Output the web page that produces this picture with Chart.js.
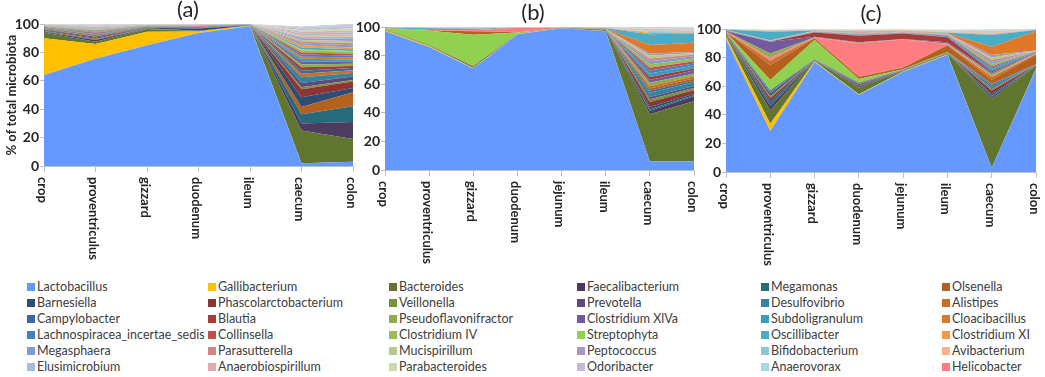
<!DOCTYPE html>
<html>
<head>
<meta charset="utf-8">
<script src="https://cdn.jsdelivr.net/npm/chart.js@4.4.1/dist/chart.umd.min.js"></script>
<style>
  body { margin: 0; background: #fff; }
  #wrap { position: relative; width: 1045px; height: 377px; overflow: hidden; font-family: Lato, sans-serif; }
  canvas { position: absolute; top: 0; }
  .ttl { position: absolute; font-size: 22px; line-height: 22px; color: #262626; transform: translateX(-50%); }
  .lg { position: absolute; font-size: 12.5px; line-height: 14px; color: #404040; white-space: nowrap; }
  .lg i { display: inline-block; width: 8px; height: 8px; margin-right: 2px; vertical-align: 0px; }
</style>
</head>
<body>
<div id="wrap">
  <canvas id="chartA" width="362" height="275" style="left:0px"></canvas>
  <canvas id="chartB" width="355" height="275" style="left:345px"></canvas>
  <canvas id="chartC" width="355" height="275" style="left:690px"></canvas>
  <div class="ttl" style="left:188px;top:-2px">(a)</div>
  <div class="ttl" style="left:533px;top:1px">(b)</div>
  <div class="ttl" style="left:871px;top:2px">(c)</div>
  <div id="legend"></div>
</div>
<script>
// sections of the gut
const sectionsA = ['crop', 'proventriculus', 'gizzard', 'duodenum', 'ileum', 'caecum', 'colon'];
const sectionsBC = ['crop', 'proventriculus', 'gizzard', 'duodenum', 'jejunum', 'ileum', 'caecum', 'colon'];

// genera, in legend order (row by row)
const genera = [
  'Lactobacillus', 'Gallibacterium', 'Bacteroides', 'Faecalibacterium', 'Megamonas', 'Olsenella',
  'Barnesiella', 'Phascolarctobacterium', 'Veillonella', 'Prevotella', 'Desulfovibrio', 'Alistipes',
  'Campylobacter', 'Blautia', 'Pseudoflavonifractor', 'Clostridium XlVa', 'Subdoligranulum', 'Cloacibacillus',
  'Lachnospiracea_incertae_sedis', 'Collinsella', 'Clostridium IV', 'Streptophyta', 'Oscillibacter', 'Clostridium XI',
  'Megasphaera', 'Parasutterella', 'Mucispirillum', 'Peptococcus', 'Bifidobacterium', 'Avibacterium',
  'Elusimicrobium', 'Anaerobiospirillum', 'Parabacteroides', 'Odoribacter', 'Anaerovorax', 'Helicobacter'
];

const colors = [
  '#6699FF', '#FFC000', '#5F7530', '#4D3B62', '#276A7C', '#B4601F',
  '#2C4D75', '#8C3533', '#77933C', '#5F4A7E', '#31859C', '#C8702A',
  '#3A68A4', '#A83B39', '#8CAE4C', '#7259A0', '#3A9DBA', '#E0782A',
  '#4A7EC2', '#C0504D', '#9BBB59', '#92D050', '#4BACC6', '#F79646',
  '#7F9CCB', '#D08886', '#B4CB8C', '#A596C2', '#8DC5D8', '#F9B38A',
  '#A9BBDD', '#E1ACAB', '#CBDAB2', '#C4BAD8', '#ABD6E4', '#FF7C80'
];

// % of total microbiota, one row per genus (legend order)
const valuesA = [
  [64, 75.5, 85, 93.7, 98.5, 2, 3],        // Lactobacillus
  [26, 10.5, 9.5, 1, 0.3, 0, 0],            // Gallibacterium
  [4, 1.5, 2, 0.3, 0.2, 23, 16],            // Bacteroides
  [0.6, 1.2, 0.2, 0.1, 0, 5, 12],           // Faecalibacterium
  [0.3, 0.4, 0.1, 0.1, 0, 6.5, 11],         // Megamonas
  [0.4, 0.5, 0.2, 0.1, 0, 5, 10],           // Olsenella
  [0.5, 0.8, 0.3, 1.5, 0.1, 7, 3],          // Barnesiella
  [0.4, 0.6, 0.2, 0.2, 0, 5.5, 4.5],        // Phascolarctobacterium
  [0.3, 0.5, 0.1, 0.1, 0, 1.5, 1],          // Veillonella
  [0.3, 0.5, 0.1, 0.1, 0, 3, 2.5],          // Prevotella
  [0.2, 0.4, 0.1, 0.1, 0, 4, 2.5],          // Desulfovibrio
  [0.2, 0.4, 0.1, 0.1, 0, 2.5, 2],          // Alistipes
  [0.2, 0.4, 0.1, 0.5, 0.1, 2, 1.5],        // Campylobacter
  [0.2, 0.4, 0.1, 0.1, 0.1, 2.5, 1.5],      // Blautia
  [0.2, 0.3, 0.1, 0.1, 0.1, 2, 1.5],        // Pseudoflavonifractor
  [0.2, 0.3, 0.1, 0.1, 0.1, 2, 1.5],        // Clostridium XlVa
  [0.2, 0.3, 0.1, 0.1, 0.1, 2, 1.5],        // Subdoligranulum
  [0.1, 0.3, 0.1, 0.1, 0.1, 1.5, 1.5],      // Cloacibacillus
  [0.1, 0.3, 0.1, 0.1, 0.1, 1.5, 1.3],      // Lachnospiracea_incertae_sedis
  [0.1, 0.3, 0.1, 0.1, 0.1, 1.5, 1.3],      // Collinsella
  [0.1, 0.2, 0.1, 0.1, 0.1, 1.5, 1.3],      // Clostridium IV
  [0.1, 0.3, 0.1, 0.1, 0, 0.5, 0.5],        // Streptophyta
  [0.1, 0.3, 0.1, 0.1, 0, 1.5, 1.3],        // Oscillibacter
  [0.1, 0.3, 0.1, 0.1, 0, 1.5, 1.3],        // Clostridium XI
  [0.1, 0.3, 0.1, 0.1, 0, 1.3, 1.5],        // Megasphaera
  [0.1, 0.3, 0.1, 0.1, 0, 1.2, 1.5],        // Parasutterella
  [0.1, 0.3, 0.1, 0.1, 0, 1.2, 1.5],        // Mucispirillum
  [0.1, 0.3, 0.1, 0.1, 0, 1.2, 1.5],        // Peptococcus
  [0.1, 0.3, 0.1, 0.1, 0, 1.2, 1.5],        // Bifidobacterium
  [0.1, 0.3, 0.1, 0.1, 0, 1.2, 1.5],        // Avibacterium
  [0.1, 0.3, 0.1, 0.1, 0, 1.1, 1.5],        // Elusimicrobium
  [0.1, 0.3, 0.1, 0.1, 0, 1.1, 1.5],        // Anaerobiospirillum
  [0.1, 0.3, 0.1, 0.1, 0, 1.1, 1.5],        // Parabacteroides
  [0.1, 0.3, 0.1, 0.1, 0, 1.1, 1.5],        // Odoribacter
  [0.1, 0.3, 0.1, 0.1, 0, 1, 1.3],          // Anaerovorax
  [0.1, 0.1, 0.05, 0.05, 0, 0.3, 0.3]       // Helicobacter
];

const valuesB = [
  [97, 86, 71, 95, 99.2, 97, 6, 6],             // Lactobacillus
  [0.6, 0.7, 0.3, 0.2, 0, 0.2, 0, 0],           // Gallibacterium
  [0.3, 0.5, 1, 0.4, 0.1, 0.8, 33, 42],         // Bacteroides
  [0, 0.1, 0.1, 0, 0, 0.1, 2.5, 3.5],           // Faecalibacterium
  [0, 0, 0, 0, 0, 0, 1, 0.8],                   // Megamonas
  [0.1, 0.2, 2.5, 0.3, 0.1, 0.1, 1.5, 1.5],     // Olsenella
  [0, 0, 0, 0, 0, 0, 1.5, 1],                   // Barnesiella
  [0.1, 0.1, 0.2, 0, 0, 0.1, 3.5, 2.5],         // Phascolarctobacterium
  [0, 0, 0, 0, 0, 0, 2, 1.5],                   // Veillonella
  [0, 0, 0, 0, 0, 0, 1.5, 1.5],                 // Prevotella
  [0, 0, 0, 0, 0, 0, 3, 2.5],                   // Desulfovibrio
  [0, 0, 0.2, 0, 0, 0, 1.5, 1.5],               // Alistipes
  [0, 0, 0, 0, 0, 0, 1.5, 1.2],                 // Campylobacter
  [0, 0, 0, 0, 0, 0, 2, 1.5],                   // Blautia
  [0, 0, 0, 0, 0, 0, 2.5, 2],                   // Pseudoflavonifractor
  [0, 0, 0, 0, 0, 0, 2, 2],                     // Clostridium XlVa
  [0, 0, 0, 0, 0, 0, 2.5, 2],                   // Subdoligranulum
  [0.1, 0.2, 0.2, 0.1, 0, 0.2, 6, 6.5],         // Cloacibacillus
  [0, 0, 0, 0, 0, 0, 2, 1.5],                   // Lachnospiracea_incertae_sedis
  [0, 0, 0, 0, 0, 0, 2, 1.5],                   // Collinsella
  [0, 0, 0, 0, 0, 0, 2.5, 2],                   // Clostridium IV
  [1, 10, 22, 0.5, 0, 0, 0, 0],                 // Streptophyta
  [0.4, 1.3, 0.8, 0.2, 0.1, 0.6, 7.5, 6.5],     // Oscillibacter
  [0.1, 0.2, 0.3, 0.1, 0.1, 0.2, 0.8, 0.6],     // Clostridium XI
  [0, 0, 0, 0, 0, 0, 2, 1.5],                   // Megasphaera
  [0, 0, 0, 0, 0, 0, 2, 1.2],                   // Parasutterella
  [0, 0, 0, 0, 0, 0, 2, 1],                     // Mucispirillum
  [0, 0, 0, 0, 0, 0, 1.5, 0.8],                 // Peptococcus
  [0.1, 0.2, 0.3, 0.05, 0, 0.2, 0.7, 0.6],      // Bifidobacterium
  [0.05, 0.1, 0.2, 0.05, 0, 0.1, 0.7, 0.6],     // Avibacterium
  [0.05, 0.1, 0.2, 0, 0, 0.1, 0.6, 0.5],        // Elusimicrobium
  [0.05, 0.1, 0.1, 0, 0, 0.1, 0.6, 0.5],        // Anaerobiospirillum
  [0.05, 0.05, 0.1, 0, 0, 0.1, 0.6, 0.5],       // Parabacteroides
  [0, 0.05, 0.05, 0, 0, 0.1, 0.5, 0.5],         // Odoribacter
  [0, 0, 0.05, 0, 0, 0.1, 0.5, 0.5],            // Anaerovorax
  [0.1, 0.1, 0.4, 3, 0.3, 0.1, 0, 0]            // Helicobacter
];

const valuesC = [
  [92.7, 28.7, 77, 54, 70, 82, 3, 72],          // Lactobacillus
  [2, 5, 0.5, 0.4, 0.3, 0.3, 0, 0.3],           // Gallibacterium
  [1, 9.3, 0.5, 4.6, 0.5, 0.7, 48, 2],          // Bacteroides
  [0.3, 3, 0.1, 0.8, 0.1, 0.1, 1.5, 0.2],       // Faecalibacterium
  [0.2, 2, 0.1, 0.4, 0.1, 0.1, 0.8, 0.2],       // Megamonas
  [0.3, 10.5, 1.2, 1.4, 1.2, 4.6, 3, 6.8],      // Olsenella
  [0.2, 1.5, 0.1, 0.5, 0.1, 0.1, 1.2, 0.1],     // Barnesiella
  [0.3, 2, 0.1, 0.6, 0.1, 0.1, 2.5, 0.2],       // Phascolarctobacterium
  [0.2, 1.5, 0.1, 0.3, 0.1, 0.1, 0.8, 0.1],     // Veillonella
  [0.2, 2, 0.1, 0.5, 0.1, 0.1, 1, 0.1],         // Prevotella
  [0.2, 1, 0.1, 0.3, 0.1, 0.1, 1.5, 0.1],       // Desulfovibrio
  [0.1, 3, 0.3, 0.5, 0.2, 0.3, 2, 0.4],         // Alistipes
  [0.1, 1, 0.1, 0.2, 0.1, 0.1, 1, 0.1],         // Campylobacter
  [0.2, 0.1, 3, 4.5, 3.8, 3.5, 1, 0.2],         // Blautia
  [0.1, 3, 0.2, 0.3, 0.1, 0.2, 1.5, 0.2],       // Pseudoflavonifractor
  [0.2, 8.3, 0.3, 0.5, 0.2, 0.8, 1, 0.5],       // Clostridium XlVa
  [0.1, 0.1, 0.2, 0.3, 0.2, 0.3, 1.5, 0.2],     // Subdoligranulum
  [0.05, 0.1, 0.1, 0.4, 0.2, 0.3, 5.8, 13.6],   // Cloacibacillus
  [0.1, 0.1, 0.2, 0.2, 0.2, 0.8, 1, 0.3],       // Lachnospiracea_incertae_sedis
  [0.1, 0.1, 0.2, 0.4, 0.2, 0.3, 1, 0.1],       // Collinsella
  [0.1, 0.1, 0.1, 0.2, 0.2, 0.2, 1.5, 0.1],     // Clostridium IV
  [0.3, 7.3, 13.5, 2.5, 0.2, 0.2, 0.2, 0],      // Streptophyta
  [0.3, 6, 0.2, 0.4, 0.2, 0.3, 8.2, 0.8],       // Oscillibacter
  [0.05, 0.3, 0.2, 0.3, 0.2, 0.3, 0.6, 0.1],    // Clostridium XI
  [0.05, 0.1, 0.1, 0.2, 0.1, 0.2, 1.5, 0.1],    // Megasphaera
  [0.05, 0.1, 0.2, 0.3, 0.2, 0.3, 1.5, 0.2],    // Parasutterella
  [0.05, 0.1, 0.1, 0.2, 0.1, 0.2, 1.5, 0.1],    // Mucispirillum
  [0.05, 0.1, 0.1, 0.2, 0.1, 0.2, 1.8, 0.1],    // Peptococcus
  [0.05, 0.2, 0.1, 0.2, 0.2, 0.3, 0.5, 0.1],    // Bifidobacterium
  [0.05, 0.2, 0.1, 0.3, 0.2, 0.3, 0.5, 0.1],    // Avibacterium
  [0.05, 0.2, 0.1, 0.2, 0.2, 0.3, 0.5, 0.1],    // Elusimicrobium
  [0.05, 0.2, 0.1, 0.2, 0.2, 0.3, 0.5, 0.1],    // Anaerobiospirillum
  [0.05, 0.2, 0.1, 0.2, 0.2, 0.3, 0.5, 0.1],    // Parabacteroides
  [0.05, 0.1, 0.1, 0.2, 0.1, 0.2, 0.5, 0.05],   // Odoribacter
  [0.05, 0.1, 0.1, 0.2, 0.1, 0.2, 0.4, 0.05],   // Anaerovorax
  [0.1, 2, 0.2, 23, 19.5, 0.8, 0.5, 0.2]        // Helicobacter
];

// stacking order (bottom -> top). panel (a) follows the legend,
// panels (b) and (c) were stacked differently in the original
const orderA = genera;
const orderBC = [
  'Lactobacillus', 'Gallibacterium', 'Bacteroides', 'Faecalibacterium', 'Megamonas', 'Barnesiella',
  'Phascolarctobacterium', 'Veillonella', 'Prevotella', 'Desulfovibrio', 'Campylobacter', 'Streptophyta',
  'Olsenella', 'Alistipes', 'Helicobacter', 'Pseudoflavonifractor', 'Clostridium XlVa', 'Blautia',
  'Subdoligranulum', 'Lachnospiracea_incertae_sedis', 'Collinsella', 'Clostridium IV', 'Megasphaera',
  'Parasutterella', 'Mucispirillum', 'Peptococcus', 'Cloacibacillus', 'Oscillibacter', 'Clostridium XI',
  'Bifidobacterium', 'Avibacterium', 'Elusimicrobium', 'Anaerobiospirillum', 'Parabacteroides',
  'Odoribacter', 'Anaerovorax'
];

const axisGrey = '#BFBFBF';
const textDark = '#262626';

// x labels read top-to-bottom, chart.js only rotates the other way
const downLabels = {
  id: 'downLabels',
  afterDraw(chart) {
    const xs = chart.scales.x;
    const ctx = chart.ctx;
    ctx.save();
    ctx.font = 'bold 13px Lato';
    ctx.fillStyle = textDark;
    ctx.textAlign = 'left';
    ctx.textBaseline = 'middle';
    chart.data.labels.forEach((lab, i) => {
      ctx.save();
      ctx.translate(xs.getPixelForTick(i) - 2, xs.top + 11);
      ctx.rotate(Math.PI / 2);
      ctx.fillText(lab, 0, 0);
      ctx.restore();
    });
    ctx.restore();
  }
};

function makePanel(id, labels, rows, order, box) {
  const datasets = order.map((name, k) => {
    const g = genera.indexOf(name);
    return {
      label: name,
      data: rows[g],
      backgroundColor: colors[g],
      borderColor: colors[g],
      borderWidth: 0,
      pointRadius: 0,
      tension: 0,
      fill: k === 0 ? 'origin' : '-1'
    };
  });
  new Chart(document.getElementById(id), {
    type: 'line',
    data: { labels: labels, datasets: datasets },
    plugins: [downLabels],
    options: {
      responsive: false,
      animation: false,
      layout: { padding: { top: box.top, right: box.right, left: 0, bottom: 0 } },
      plugins: { legend: { display: false }, tooltip: { enabled: false } },
      scales: {
        x: {
          offset: false,
          grid: { drawOnChartArea: false, drawTicks: true, tickLength: 6, color: axisGrey },
          border: { color: axisGrey },
          ticks: { display: false, autoSkip: false },
          afterFit: s => { s.height = box.xh; }
        },
        y: {
          stacked: true,
          min: 0,
          max: 100,
          grid: { drawOnChartArea: false, drawTicks: true, tickLength: 4, color: axisGrey },
          border: { color: axisGrey },
          ticks: { stepSize: 20, padding: 1, color: textDark, font: { family: 'Lato', size: 14, weight: 'bold' } },
          title: {
            display: !!box.title,
            text: box.title || '',
            color: textDark,
            padding: { top: 4, bottom: 2 },
            font: { family: 'Lato', size: 13, weight: 'bold' }
          },
          afterFit: s => { s.width = box.yw; }
        }
      }
    }
  });
}

function buildLegend() {
  const colX = [27, 208, 389, 577, 761, 942];
  const el = document.getElementById('legend');
  genera.forEach((name, i) => {
    const d = document.createElement('div');
    d.className = 'lg';
    d.style.left = colX[i % 6] + 'px';
    d.style.top = (280 + 16 * Math.floor(i / 6)) + 'px';
    d.innerHTML = '<i style="background:' + colors[i] + '"></i>' + name;
    el.appendChild(d);
  });
}

function drawAll() {
  buildLegend();
  makePanel('chartA', sectionsA, valuesA, orderA, { top: 24, right: 9, xh: 109, yw: 44, title: '% of total microbiota' });
  makePanel('chartB', sectionsBC, valuesB, orderBC, { top: 27, right: 6, xh: 105, yw: 40 });
  makePanel('chartC', sectionsBC, valuesC, orderBC, { top: 29, right: 9, xh: 103, yw: 36 });
}

Promise.all([
  document.fonts.load('bold 13px Lato'),
  document.fonts.load('13px Lato')
]).then(drawAll, drawAll);
</script>
</body>
</html>
